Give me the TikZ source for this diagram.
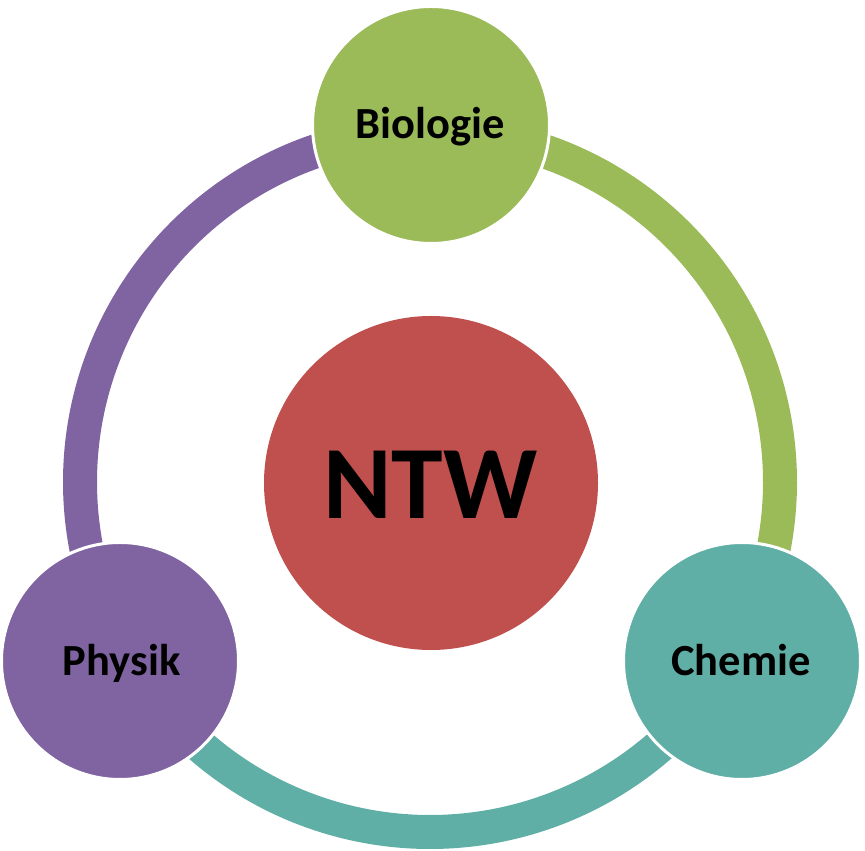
\documentclass[tikz,border=0pt]{standalone}
\usepackage{fontspec}
\setmainfont{Carlito}
\definecolor{cgreen}{HTML}{9BBB59}
\definecolor{cpurple}{HTML}{8064A2}
\definecolor{cteal}{HTML}{5FAFA6}
\definecolor{cred}{HTML}{C0504D}
\tikzset{
  subj/.style={circle, minimum size=237pt, inner sep=0pt, draw=white, line width=3pt},
  core/.style={circle, minimum size=334pt, inner sep=0pt, fill=cred},
  ringarc/.style={line width=34pt},
  smalllabel/.style={anchor=base, inner sep=0pt, font=\fontsize{44.5}{50}\selectfont\bfseries},
  biglabel/.style={anchor=base, inner sep=0pt, font=\fontsize{104}{110}\selectfont\bfseries}
}
\begin{document}
\begin{tikzpicture}[x=1pt,y=1pt]
\useasboundingbox (0,0) rectangle (865,851);
\coordinate (ring) at (430,369);
% ring arcs
\draw[ringarc, cpurple] ([shift={(100:350)}]ring) arc[start angle=100, end angle=200, radius=350];
\draw[ringarc, cgreen] ([shift={(-20:350)}]ring) arc[start angle=-20, end angle=80, radius=350];
\draw[ringarc, cteal] ([shift={(220:350)}]ring) arc[start angle=220, end angle=320, radius=350];
% circles
\node[subj, fill=cgreen] (bio) at (431,726) {};
\node[subj, fill=cpurple] (phy) at (120,190) {};
\node[subj, fill=cteal] (che) at (742,190) {};
\node[core] (ntw) at (431,368) {};
% labels
\node[smalllabel] (tbio) at (430.5,712) {Biologie};
\node[smalllabel] (tphy) at (121.5,175) {Physik};
\node[smalllabel] (tche) at (741,175) {Chemie};
\node[biglabel] (tntw) at (430.5,332) {NTW};
\end{tikzpicture}
\end{document}
